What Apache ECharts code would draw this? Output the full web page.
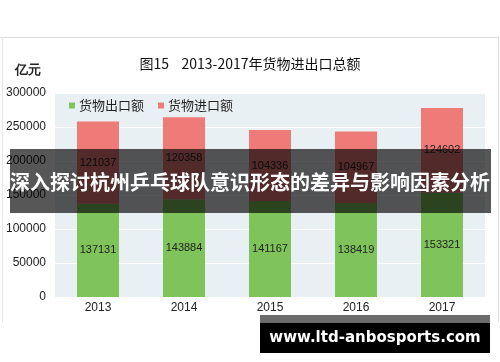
<!DOCTYPE html>
<html><head><meta charset="utf-8">
<script src="https://cdn.jsdelivr.net/npm/echarts@6/dist/echarts.min.js"></script>
<style>html,body{margin:0;padding:0;background:#fff}#c{width:500px;height:362px}</style>
</head><body><div id="c"></div>
<script>
const categories = ['2013', '2014', '2015', '2016', '2017'];
const exportValues = [137131, 143884, 141167, 138419, 153321];
const importValues = [121037, 120358, 104336, 104967, 124602];
const seriesNames = ['货物出口额', '货物进口额'];
const titleText = '图15    2013-2017年货物进出口总额';
const unitText = '亿元';
const bannerText = '深入探讨杭州乒乓球队意识形态的差异与影响因素分析';
const watermarkText = 'www.ltd-anbosports.com';

const font = '"Noto Sans CJK SC", "Liberation Sans", sans-serif';
const chart = echarts.init(document.getElementById('c'), null, {renderer: 'canvas'});
chart.setOption({
  animation: false,
  backgroundColor: '#fff',
  textStyle: {fontFamily: font},
  title: {text: titleText, left: 'center', top: 52, textStyle: {fontSize: 14, fontWeight: 'normal', color: '#111', fontFamily: font}},
  legend: {
    data: seriesNames, left: 64, top: 94, itemWidth: 6, itemHeight: 6, itemGap: 14,
    icon: 'rect', textStyle: {fontSize: 13, color: '#222', fontFamily: font, padding: [0, 0, 0, -1]}
  },
  grid: {left: 55, right: 15, top: 93, bottom: 65, show: true, backgroundColor: '#e9f0f4', borderWidth: 0},
  xAxis: {
    type: 'category', data: categories,
    axisLine: {show: false}, axisTick: {show: false},
    axisLabel: {fontSize: 12, color: '#222', margin: 5, fontFamily: '"Liberation Sans", sans-serif'}
  },
  yAxis: {
    type: 'value', min: 0, max: 300000, interval: 50000,
    axisLine: {show: false}, axisTick: {show: false},
    axisLabel: {fontSize: 12, color: '#222', margin: 9, fontFamily: '"Liberation Sans", sans-serif', formatter: v => String(v)},
    splitLine: {lineStyle: {color: '#ffffff', width: 1}}
  },
  series: [
    {name: seriesNames[0], type: 'bar', stack: 't', data: exportValues, barWidth: 42,
     itemStyle: {color: '#7ec45a'},
     label: {show: true, position: 'inside', fontSize: 11, color: '#222', fontFamily: '"Liberation Sans", sans-serif'}},
    {name: seriesNames[1], type: 'bar', stack: 't', data: importValues, barWidth: 42,
     itemStyle: {color: '#ee7b78'},
     label: {show: true, position: 'inside', fontSize: 11, color: '#222', fontFamily: '"Liberation Sans", sans-serif'}}
  ],
  graphic: [
    {type: 'line', shape: {x1: 0, y1: 37.5, x2: 498, y2: 37.5}, style: {stroke: '#dddddd', lineWidth: 1}, z: 10},
    {type: 'line', shape: {x1: 498.5, y1: 37, x2: 498.5, y2: 322}, style: {stroke: '#dddddd', lineWidth: 1}, z: 10},
    {type: 'line', shape: {x1: 2.5, y1: 37, x2: 2.5, y2: 322}, style: {stroke: '#e6e6e6', lineWidth: 1}, z: 10},
    {type: 'text', left: 15, top: 64, style: {text: unitText, fontSize: 13, fontWeight: 'bold', fill: '#222', font: 'bold 13px ' + font}, z: 10},
    {type: 'rect', shape: {x: 10, y: 149, width: 481, height: 64}, style: {fill: 'rgba(0,0,0,0.66)'}, z: 100},
    {type: 'text', x: 250, y: 182, style: {text: bannerText, fill: '#fff', align: 'center', verticalAlign: 'middle', font: 'bold 20px ' + font}, z: 101},
    {type: 'rect', shape: {x: 260, y: 315, width: 230, height: 8}, style: {fill: '#6b6b6b'}, z: 100},
    {type: 'rect', shape: {x: 260, y: 323, width: 230, height: 30}, style: {fill: '#000'}, z: 100},
    {type: 'text', x: 375, y: 338, style: {text: watermarkText, fill: '#fff', align: 'center', verticalAlign: 'middle', font: 'bold 15px "DejaVu Sans", sans-serif'}, z: 101}
  ]
});
</script></body></html>
